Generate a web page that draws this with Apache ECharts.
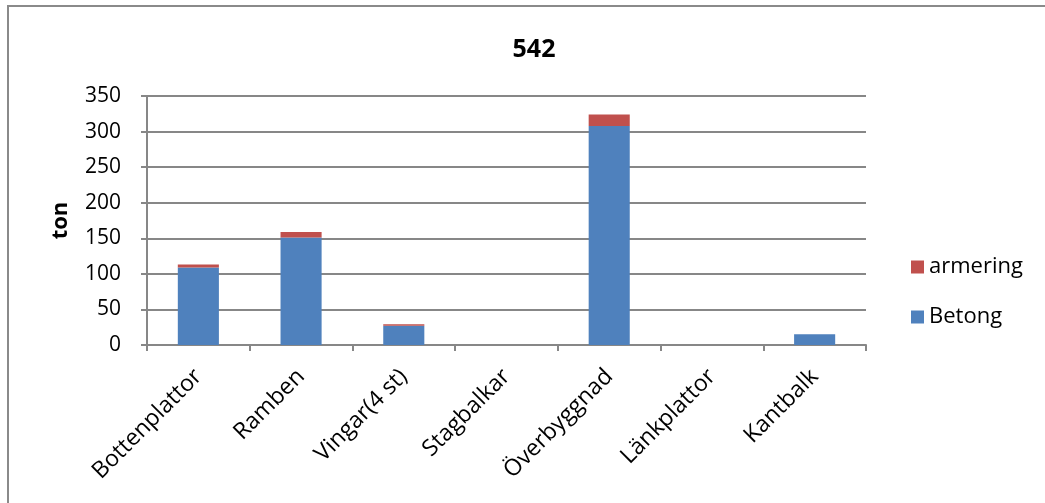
<!DOCTYPE html>
<html><head><meta charset="utf-8">
<script src="https://cdn.jsdelivr.net/npm/echarts@6/dist/echarts.min.js"></script>
<style>html,body{margin:0;padding:0;background:#fff}#c{width:1045px;height:503px}</style>
</head><body><div id="c"></div>
<script>
const categories = ['Bottenplattor','Ramben','Vingar(4 st)','Stagbalkar','Överbyggnad','Länkplattor','Kantbalk'];
const betong = [109, 151, 27, 0, 308, 0, 15];
const armering = [4, 8, 2, 0, 16, 0, 0];
const yTicks = {min: 0, max: 350, interval: 50};
const FONT = '"Open Sans", "Liberation Sans", sans-serif';
const chart = echarts.init(document.getElementById('c'), null, {renderer: 'canvas'});
chart.setOption({
  animation: false,
  backgroundColor: '#fff',
  title: {text: '542', left: 529, top: 32, textAlign: 'center',
    textStyle: {fontFamily: FONT, fontWeight: 'bold', fontSize: 25, color: '#000'}},
  graphic: [
    {type: 'line', shape: {x1: 7, y1: 6, x2: 1045, y2: 6}, style: {stroke: '#8a8a8a', lineWidth: 2}},
    {type: 'line', shape: {x1: 8, y1: 5, x2: 8, y2: 503}, style: {stroke: '#8a8a8a', lineWidth: 2}}
  ],
  legend: {
    data: ['armering', 'Betong'], orient: 'vertical', left: 906, top: 251,
    itemWidth: 13, itemHeight: 13, itemGap: 28, icon: 'rect',
    textStyle: {fontFamily: FONT, fontSize: 22, color: '#000'}
  },
  grid: {left: 147, right: 179, top: 96, bottom: 158},
  xAxis: {
    type: 'category', data: categories,
    axisLine: {lineStyle: {color: '#878787', width: 2}},
    axisTick: {show: true, length: 6, lineStyle: {color: '#878787', width: 2}, alignWithLabel: false},
    axisLabel: {rotate: 45, margin: 28, interval: 0, fontFamily: FONT, fontSize: 23, color: '#000'}
  },
  yAxis: {
    type: 'value', min: yTicks.min, max: yTicks.max, interval: yTicks.interval,
    name: 'ton', nameLocation: 'middle', nameGap: 75, nameRotate: 90,
    nameTextStyle: {fontFamily: FONT, fontWeight: 'bold', fontSize: 22, color: '#000'},
    axisLine: {show: true, lineStyle: {color: '#878787', width: 2}},
    axisTick: {show: true, length: 6, lineStyle: {color: '#878787', width: 2}},
    axisLabel: {margin: 26, fontFamily: FONT, fontSize: 21, color: '#000'},
    splitLine: {lineStyle: {color: '#878787', width: 2}}
  },
  series: [
    {name: 'Betong', type: 'bar', stack: 's', data: betong, barWidth: '40%',
      itemStyle: {color: '#4F81BD'}},
    {name: 'armering', type: 'bar', stack: 's', data: armering, barWidth: '40%',
      itemStyle: {color: '#C0504D'}}
  ]
});
</script></body></html>
